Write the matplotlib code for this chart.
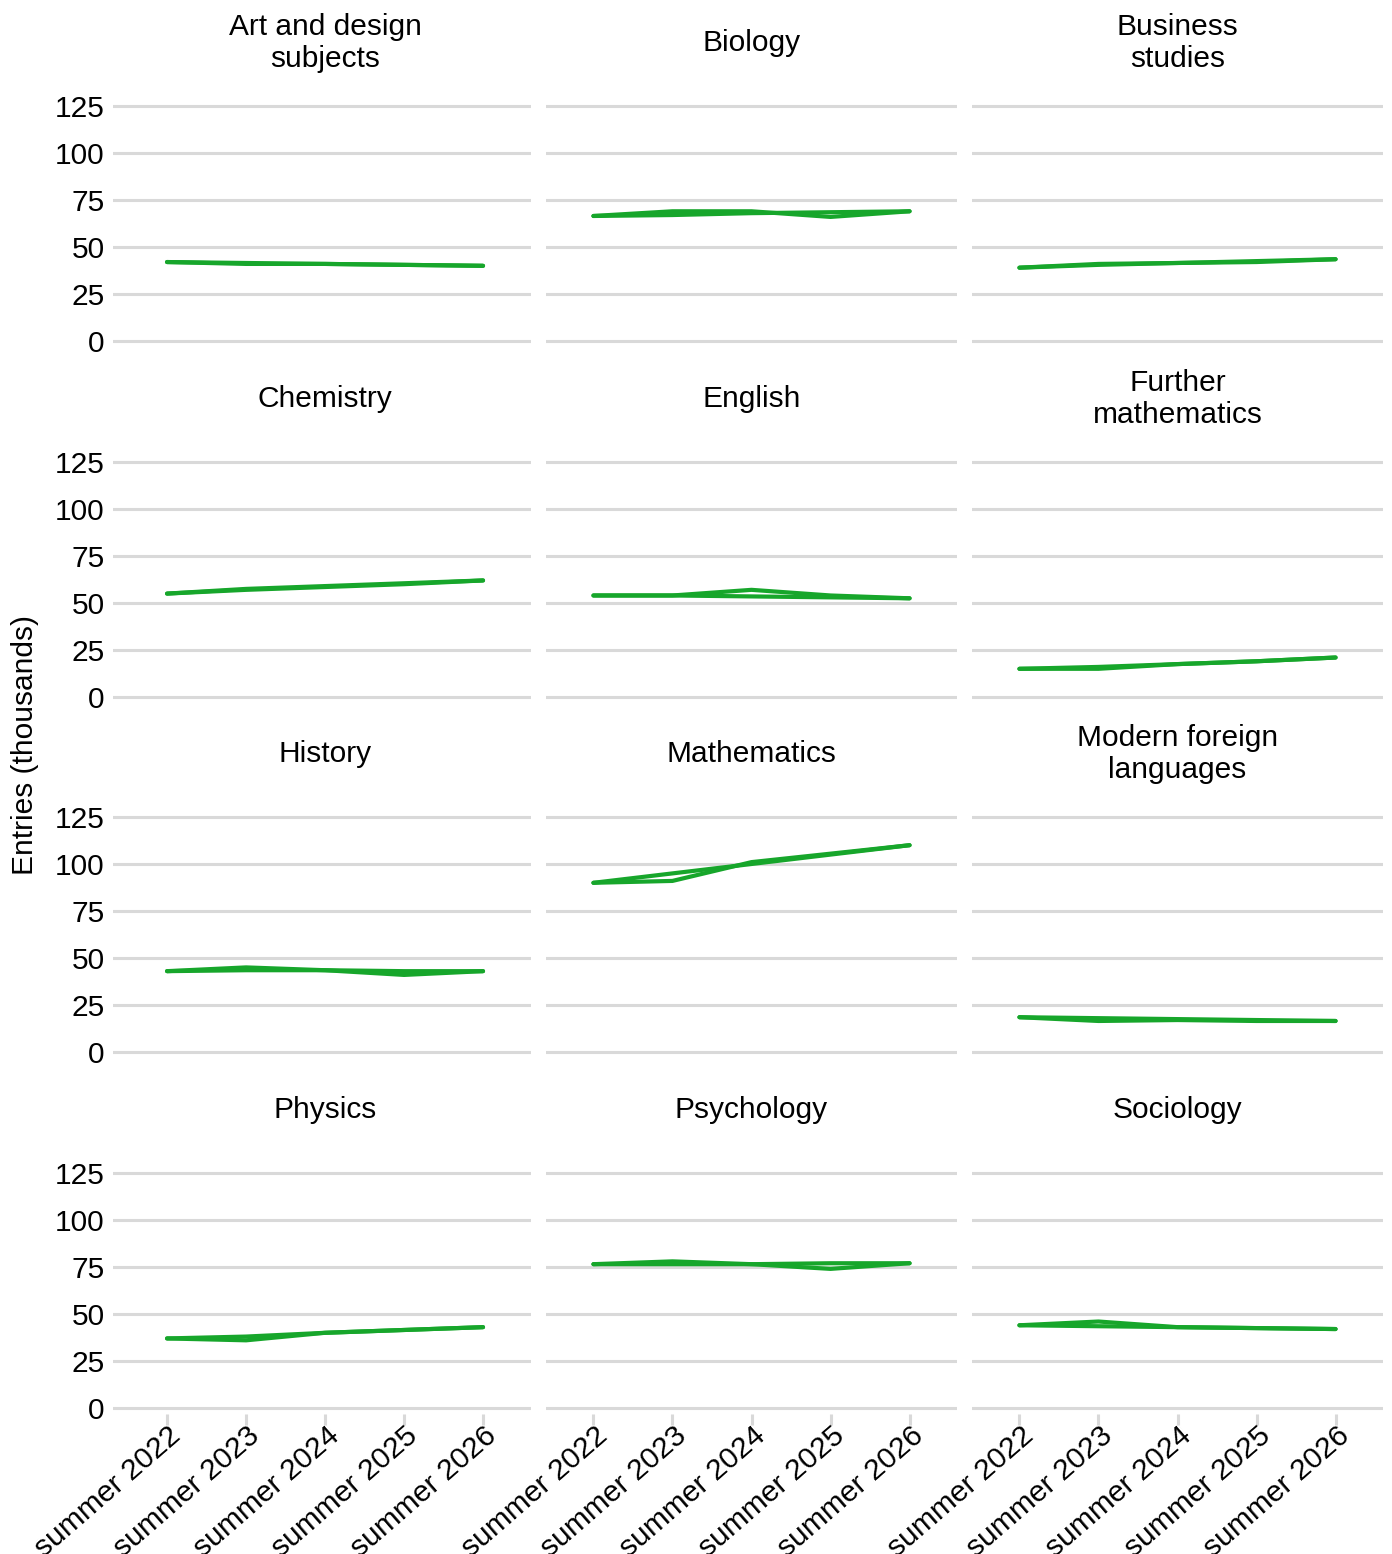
import matplotlib
matplotlib.use("Agg")
import matplotlib.pyplot as plt
import matplotlib.transforms as mtransforms

plt.rcParams['font.family'] = ['Liberation Sans', 'DejaVu Sans']

years = ['summer 2022', 'summer 2023', 'summer 2024', 'summer 2025', 'summer 2026']
subjects = ['Art and design\nsubjects', 'Biology', 'Business\nstudies',
            'Chemistry', 'English', 'Further\nmathematics',
            'History', 'Mathematics', 'Modern foreign\nlanguages',
            'Physics', 'Psychology', 'Sociology']

# two series per subject (entries in thousands)
series_a = [
    [42, 41.5, 41, 40.5, 40],
    [66.5, 69, 69, 66, 69],
    [39, 41, 41.5, 42, 43.5],
    [55, 57.5, 59, 60.5, 62],
    [54, 54, 57, 54, 52.5],
    [15, 16, 17.5, 19, 21],
    [43, 45, 43.5, 41, 43],
    [90, 91, 101, 105.5, 110],
    [18.5, 16.5, 17, 16.5, 16.5],
    [37, 36, 40, 41.5, 43],
    [76.5, 78, 76.5, 74, 77],
    [44, 46, 43, 42.5, 42],
]
series_b = [
    [42, 41, 41, 40.5, 40],
    [66.5, 67, 68, 68.5, 69],
    [39, 40.5, 41.5, 42.5, 43.5],
    [55, 57, 58.5, 60, 62],
    [54, 54, 53.5, 53, 52.5],
    [15, 15, 17.5, 19, 21],
    [43, 43.5, 43.5, 43, 43],
    [90, 95, 100, 105, 110],
    [18.5, 18, 17.5, 17, 16.5],
    [37, 38, 40, 41.5, 43],
    [76.5, 76.5, 76.5, 77, 77],
    [44, 43.5, 43, 42.5, 42],
]
yticks = [0, 25, 50, 75, 100, 125]

W, H = 1392, 1554
fig = plt.figure(figsize=(W / 100, H / 100), dpi=100)

# pixel layout
col_left = [113, 546, 972]
col_w = [418, 411, 411]
col_xlim = [(-0.684, 4.607), (-0.6, 4.6), (-0.6, 4.6)]
title_x = [325, 751.5, 1177.5]
row_zero = [341, 697, 1052, 1408]
title_y = [43, 399, 754, 1110]
ppu = 1.88
ymin, ymax = -3, 128
green = '#17a62b'
grid_c = '#d9d9d9'
fs = 21.5

for i, name in enumerate(subjects):
    r, c = divmod(i, 3)
    bottom_px = row_zero[r] - ymin * ppu
    top_px = row_zero[r] - ymax * ppu
    ax = fig.add_axes([col_left[c] / W, 1 - bottom_px / H, col_w[c] / W, (bottom_px - top_px) / H])
    x = range(len(years))
    ax.plot(x, series_a[i], color=green, lw=3, solid_capstyle='round', solid_joinstyle='round', zorder=3)
    ax.plot(x, series_b[i], color=green, lw=3, solid_capstyle='round', solid_joinstyle='round', zorder=3)
    ax.set_xlim(*col_xlim[c])
    ax.set_ylim(ymin, ymax)
    ax.set_yticks(yticks)
    for yv in yticks:
        ax.axhline(yv, color=grid_c, lw=2.2, zorder=1)
    for s in ax.spines.values():
        s.set_visible(False)
    ax.set_xticks(list(x))
    ax.tick_params(axis='y', length=0, pad=6, labelsize=fs)
    if c == 0:
        ax.set_yticklabels([str(v) for v in yticks])
    else:
        ax.set_yticklabels([])
    if r == 3:
        ax.tick_params(axis='x', length=8, width=2.2, color=grid_c, pad=2, labelsize=fs)
        labels = ax.set_xticklabels(years, rotation=41, ha='right', va='top', rotation_mode='anchor')
        offset = mtransforms.ScaledTranslation(0.01, 0.06, fig.dpi_scale_trans)
        for lab in labels:
            lab.set_transform(lab.get_transform() + offset)
    else:
        ax.tick_params(axis='x', length=0)
        ax.set_xticklabels([])
    ax.patch.set_alpha(0)
    fig.text(title_x[c] / W, 1 - title_y[r] / H, name, ha='center', va='center',
             fontsize=fs, linespacing=1.17)

fig.text(25 / W, 1 - 745 / H, 'Entries (thousands)', rotation=90, ha='center', va='center', fontsize=fs)

fig.savefig('out.png', dpi=100)
